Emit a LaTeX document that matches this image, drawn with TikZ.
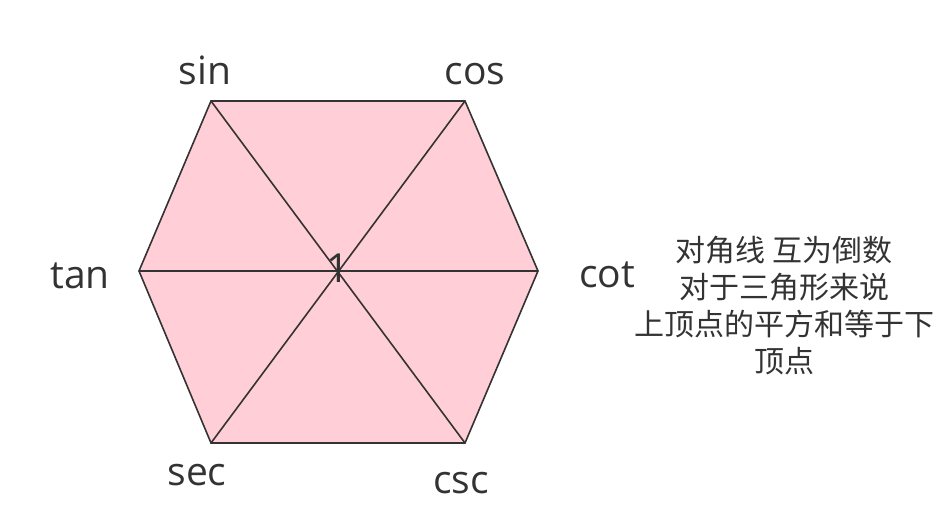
\documentclass[tikz,border=0pt]{standalone}
\usepackage{fontspec}
\setmainfont{Open Sans}
\newfontfamily\cjk{Noto Sans CJK SC}
\definecolor{hexfill}{HTML}{FFCED6}
\definecolor{ink}{HTML}{333333}
\begin{document}
\begin{tikzpicture}[x=1pt,y=-1pt,
  edge/.style={draw=ink,line width=1.6pt,line join=miter},
  lbl/.style={text=ink,font=\fontsize{39}{46}\selectfont,anchor=base,inner sep=0pt},
  note/.style={text=ink,font=\cjk\fontsize{30}{37}\selectfont,align=center,inner sep=0pt}]
\useasboundingbox (0,0) rectangle (951,521);
\coordinate (sin) at (211,101);
\coordinate (cos) at (465,101);
\coordinate (cot) at (538,271);
\coordinate (csc) at (465,443);
\coordinate (sec) at (211,443);
\coordinate (tan) at (139,271);
\coordinate (c) at (338,271);
\fill[hexfill] (sin)--(cos)--(cot)--(csc)--(sec)--(tan)--cycle;
\draw[edge] (sin)--(csc);
\draw[edge] (cos)--(sec);
\draw[edge] (tan)--(cot);
\draw[edge] (sin)--(cos)--(cot)--(csc)--(sec)--(tan)--cycle;
\node[lbl,font=\fontsize{40}{46}\selectfont] (one) at (338,283) {1};
\node[lbl] (lsin) at (205,85) {sin};
\node[lbl] (lcos) at (475,85) {cos};
\node[lbl] (ltan) at (80,289) {tan};
\node[lbl] (lcot) at (607,288) {cot};
\node[lbl] (lsec) at (197,485) {sec};
\node[lbl] (lcsc) at (461,493) {csc};
\node[note] (txt) at (784,306) {对角线 互为倒数\\对于三角形来说\\上顶点的平方和等于下\\顶点};
\end{tikzpicture}
\end{document}
